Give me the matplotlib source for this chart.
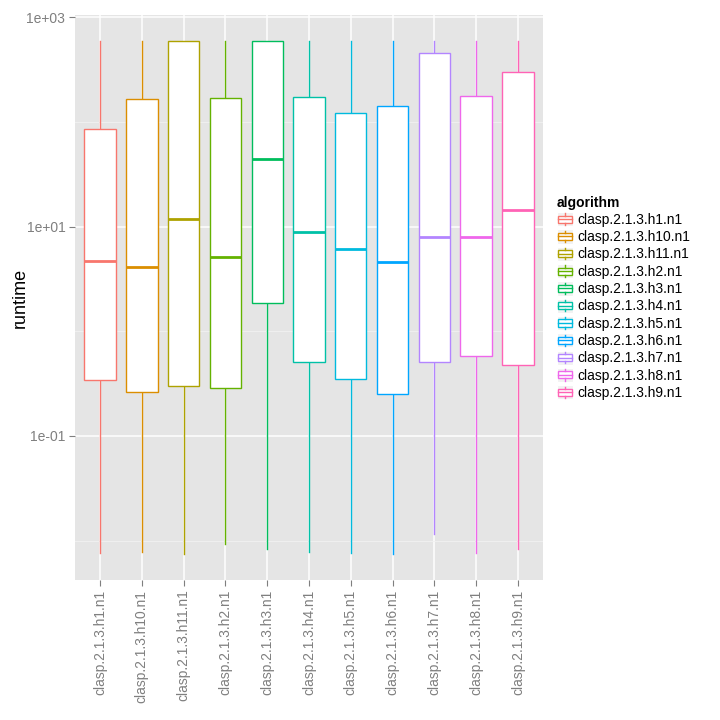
import numpy as np
import matplotlib
matplotlib.use("Agg")
import matplotlib.pyplot as plt
from matplotlib.legend_handler import HandlerBase
from matplotlib.patches import Rectangle
from matplotlib.lines import Line2D

# data (seconds, log scale)
algorithms = ["clasp.2.1.3.h1.n1", "clasp.2.1.3.h10.n1", "clasp.2.1.3.h11.n1",
              "clasp.2.1.3.h2.n1", "clasp.2.1.3.h3.n1", "clasp.2.1.3.h4.n1",
              "clasp.2.1.3.h5.n1", "clasp.2.1.3.h6.n1", "clasp.2.1.3.h7.n1",
              "clasp.2.1.3.h8.n1", "clasp.2.1.3.h9.n1"]
whisker_low = [0.00765, 0.00777, 0.00743, 0.00933, 0.00824, 0.00777,
               0.00765, 0.00738, 0.01146, 0.00755, 0.00824]
q1 = [0.339, 0.264, 0.303, 0.288, 1.85, 0.504, 0.352, 0.253, 0.504, 0.578, 0.479]
median = [4.74, 4.09, 11.9, 5.17, 44.7, 8.85, 6.18, 4.64, 8.04, 8.04, 14.3]
q3 = [86, 166, 600, 171, 600, 175, 122, 141, 457, 177, 301]
whisker_high = [600, 600, 600, 600, 600, 600, 600, 600, 600, 600, 600]

colors = ["#F8766D", "#DB8E00", "#AEA200", "#64B200", "#00BD5C", "#00C1A7",
          "#00BADE", "#00A6FF", "#B385FF", "#EF67EB", "#FF63B6"]

plt.rcParams['font.family'] = ['Liberation Sans', 'DejaVu Sans']

fig = plt.figure(figsize=(7.2, 7.2), dpi=100)
ax = fig.add_axes([75 / 720, 140 / 720, 468 / 720, 565 / 720])
ax.set_facecolor("#E5E5E5")

pos = np.arange(1, len(algorithms) + 1)
stats = []
for i in range(len(algorithms)):
    stats.append(dict(whislo=whisker_low[i], q1=q1[i], med=median[i],
                      q3=q3[i], whishi=whisker_high[i]))

bp = ax.bxp(stats, positions=pos, widths=0.75, showfliers=False,
            showcaps=False, patch_artist=True)
for i, c in enumerate(colors):
    bp["boxes"][i].set(facecolor="white", edgecolor=c, linewidth=1.0, zorder=3)
    bp["medians"][i].set(color=c, linewidth=2.0, zorder=4)
    bp["whiskers"][2 * i].set(color=c, linewidth=1.0, zorder=2)
    bp["whiskers"][2 * i + 1].set(color=c, linewidth=1.0, zorder=2)

ax.set_yscale("log")
lo = np.log10(min(whisker_low))
hi = np.log10(max(whisker_high))
pad = 0.05 * (hi - lo)
ax.set_ylim(10 ** (lo - pad), 10 ** (hi + pad))
ax.set_xlim(0.4, len(algorithms) + 0.6)

ax.set_yticks([0.1, 10, 1000])
ax.set_yticklabels(["1e-01", "1e+01", "1e+03"])
ax.set_yticks([0.01, 1, 100], minor=True)
ax.yaxis.set_minor_formatter(matplotlib.ticker.NullFormatter())
ax.set_xticks(pos)
ax.set_xticklabels(algorithms, rotation=90)

ax.grid(True, which="major", color="white", linewidth=1.1)
ax.grid(True, which="minor", axis="y", color="#F2F2F2", linewidth=0.6)
ax.set_axisbelow(True)
for s in ax.spines.values():
    s.set_visible(False)
ax.tick_params(which="major", length=4, color="#7F7F7F", labelcolor="#7F7F7F",
               labelsize=10, width=0.8, pad=3)
ax.tick_params(which="minor", length=0)
ax.set_ylabel("runtime", fontsize=13, labelpad=-2)


class BoxKey(HandlerBase):
    def create_artists(self, legend, orig, xd, yd, w, h, fontsize, trans):
        c = orig.get_color()
        bg = Rectangle((-xd, -yd), w, h, facecolor="#F2F2F2", edgecolor="white",
                       linewidth=0.8, transform=trans)
        box = Rectangle((-xd + 0.1 * w, -yd + 0.25 * h), 0.8 * w, 0.5 * h,
                        facecolor="white", edgecolor=c, linewidth=1.0, transform=trans)
        wl = Line2D([-xd + 0.5 * w] * 2, [-yd + 0.1 * h, -yd + 0.25 * h],
                    color=c, linewidth=1.0, transform=trans)
        wh = Line2D([-xd + 0.5 * w] * 2, [-yd + 0.75 * h, -yd + 0.9 * h],
                    color=c, linewidth=1.0, transform=trans)
        md = Line2D([-xd + 0.1 * w, -xd + 0.9 * w], [-yd + 0.5 * h] * 2,
                    color=c, linewidth=1.0, transform=trans)
        return [bg, box, wl, wh, md]


handles = [Line2D([], [], color=c) for c in colors]
leg = fig.legend(handles, algorithms, loc="upper left",
                 bbox_to_anchor=(551 / 720, 1 - 190 / 720), frameon=False,
                 title="algorithm", fontsize=10, handlelength=1.2,
                 handleheight=1.2, handletextpad=0.3, labelspacing=0.18,
                 borderaxespad=0, alignment="left",
                 handler_map={Line2D: BoxKey()})
leg.get_title().set_fontweight("bold")
leg.get_title().set_fontsize(10)

fig.savefig("out.png", dpi=100)
